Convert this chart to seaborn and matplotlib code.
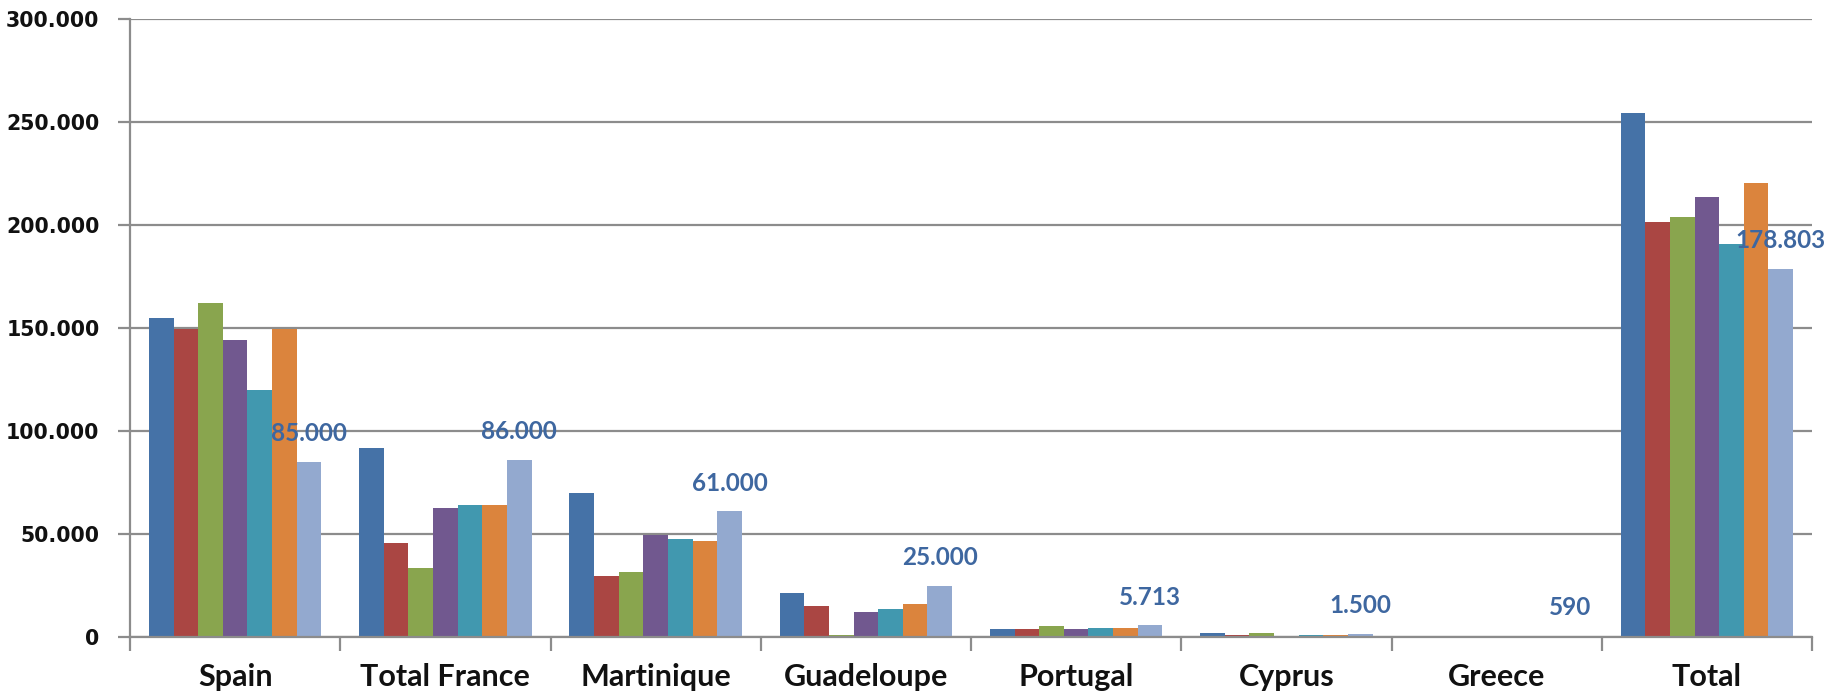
import matplotlib
matplotlib.use("Agg")
import matplotlib.pyplot as plt
import matplotlib.ticker as mticker
import numpy as np
import pandas as pd
import seaborn as sns

categories = ["Spain", "Total France", "Martinique", "Guadeloupe", "Portugal", "Cyprus", "Greece", "Total"]
series_names = ["Series 1", "Series 2", "Series 3", "Series 4", "Series 5", "Series 6", "Series 7"]

s1 = [155000, 91600, 70000, 21300, 3900, 2000, 0, 254200]
s2 = [149500, 45600, 29600, 15100, 3900, 1000, 0, 201600]
s3 = [162000, 33300, 31400, 800, 5400, 2000, 0, 204100]
s4 = [144200, 62800, 49700, 12300, 3900, 0, 0, 213500]
s5 = [119900, 64100, 47600, 13600, 4500, 1200, 0, 190700]
s6 = [149500, 64100, 46800, 16200, 4500, 1200, 0, 220400]
s7 = [85000, 86000, 61000, 25000, 5713, 1500, 590, 178803]

colors = ["#4572A7", "#AA4643", "#89A54E", "#71588F", "#4198AF", "#DB843D", "#93A9CF"]
label_color = "#3E67A0"
grid_color = "#8C8C8C"

all_series = [s1, s2, s3, s4, s5, s6, s7]
rows = []
for name, vals in zip(series_names, all_series):
    for cat, v in zip(categories, vals):
        rows.append({"category": cat, "series": name, "value": v})
df = pd.DataFrame(rows)

sns.set_theme(style="white")
plt.rcParams["font.family"] = ["DejaVu Sans"]

fig = plt.figure(figsize=(18.39, 6.97), dpi=100)
ax = fig.add_axes([130 / 1839, 1 - 637 / 697, (1812 - 130) / 1839, (637 - 19) / 697])

sns.barplot(data=df, x="category", y="value", hue="series", order=categories,
            hue_order=series_names, palette=colors, width=0.82, gap=0,
            saturation=1, ax=ax, legend=False, linewidth=0, errorbar=None)

ax.set_xlim(-0.5, len(categories) - 0.5)
ax.set_ylim(0, 300000)
ax.set_yticks(np.arange(0, 300001, 50000))
ax.yaxis.set_major_formatter(mticker.FuncFormatter(lambda v, p: f"{int(v):,}".replace(",", ".")))
ax.grid(axis="y", color=grid_color, linewidth=1.6)
ax.set_axisbelow(True)

for side in ["top", "right"]:
    ax.spines[side].set_visible(False)
for side in ["left", "bottom"]:
    ax.spines[side].set_color(grid_color)
    ax.spines[side].set_linewidth(1.6)

ax.set_xlabel("")
ax.set_ylabel("")
ax.tick_params(axis="y", which="major", direction="out", length=9, width=1.6, color=grid_color,
               labelsize=14.8, pad=13, left=True)
for lab in ax.get_yticklabels():
    lab.set_fontweight("bold")
    lab.set_color("#111111")

ax.set_xticks(np.arange(-0.5, len(categories)), minor=True)
ax.tick_params(axis="x", which="minor", direction="out", length=10, width=1.6, color=grid_color, bottom=True)
ax.tick_params(axis="x", which="major", length=0, pad=19)
ax.set_xticklabels(categories, fontsize=22, fontweight="bold", family=["Lato", "DejaVu Sans"], color="#111111")

last = ax.containers[-1]
labels = [f"{int(v):,}".replace(",", ".") for v in s7]
ax.bar_label(last, labels=labels, padding=12, color=label_color, fontsize=17.5,
             fontweight="bold", family=["Lato", "DejaVu Sans"])

fig.savefig("out.png", dpi=100)
